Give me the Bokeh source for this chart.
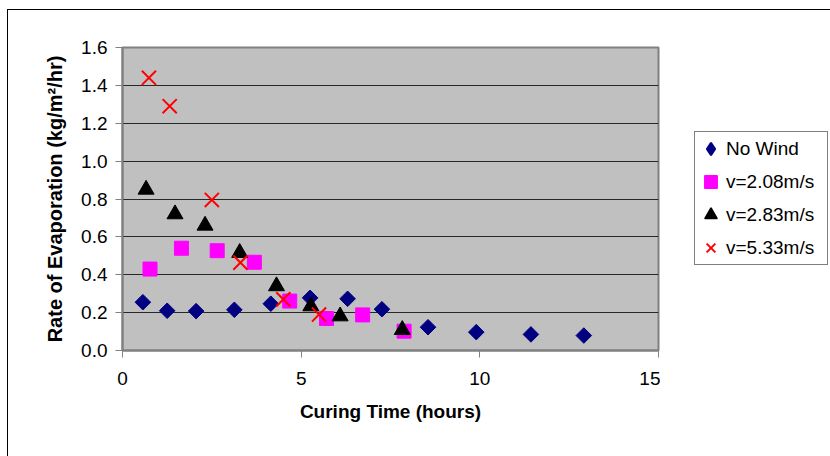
import numpy as np
from bokeh.plotting import figure
from bokeh.layouts import row
from bokeh.models import Legend, LegendItem, FixedTicker, NumeralTickFormatter, Range1d
from bokeh.embed import file_html
from bokeh.resources import INLINE

# Data
nowind_t = [0.57, 1.25, 2.06, 3.13, 4.15, 5.25, 6.30, 7.26, 8.55, 9.90, 11.43, 12.91]
nowind_r = [0.255, 0.21, 0.208, 0.215, 0.247, 0.278, 0.273, 0.218, 0.123, 0.097, 0.085, 0.079]

v208_t = [0.77, 1.65, 2.65, 3.69, 4.68, 5.71, 6.72, 7.88]
v208_r = [0.43, 0.54, 0.527, 0.466, 0.261, 0.169, 0.188, 0.102]

v283_t = [0.66, 1.47, 2.31, 3.28, 4.31, 5.27, 6.09, 7.83]
v283_r = [0.85, 0.72, 0.66, 0.516, 0.34, 0.234, 0.181, 0.109]

v533_t = [0.74, 1.32, 2.50, 3.30, 4.50, 5.50]
v533_r = [1.44, 1.29, 0.795, 0.464, 0.27, 0.19]

labels = ["No Wind", "v=2.08m/s", "v=2.83m/s", "v=5.33m/s"]
x_ticks = [0, 5, 10, 15]
y_ticks = [0.0, 0.2, 0.4, 0.6, 0.8, 1.0, 1.2, 1.4, 1.6]

FONT = "Liberation Sans"
NAVY, MAGENTA, BLACK, RED = "#000080", "#FF00FF", "#000000", "#FF0000"

p = figure(width=652, height=446, output_backend="svg", toolbar_location=None,
           x_range=Range1d(0, 15), y_range=Range1d(0, 1.6),
           min_border_left=114, min_border_right=2, min_border_top=37, min_border_bottom=106)

p.background_fill_color = "#C0C0C0"
p.border_fill_color = "white"
p.outline_line_color = "#808080"
p.outline_line_width = 2

p.xgrid.grid_line_color = None
p.ygrid.grid_line_color = "#000000"
p.ygrid.grid_line_width = 1
p.ygrid.grid_line_alpha = 0.8

p.xaxis.ticker = FixedTicker(ticks=x_ticks)
p.yaxis.ticker = FixedTicker(ticks=y_ticks)
p.yaxis.formatter = NumeralTickFormatter(format="0.0")

for ax in (p.xaxis, p.yaxis):
    ax.axis_line_color = "#808080"
    ax.axis_line_width = 2
    ax.major_tick_line_color = "#808080"
    ax.major_tick_in = 0
    ax.major_tick_out = 7
    ax.minor_tick_line_color = None
    ax.major_label_text_font = FONT
    ax.major_label_text_font_size = "19px"
    ax.major_label_text_color = "black"
    ax.axis_label_text_font = FONT
    ax.axis_label_text_font_style = "bold"
    ax.axis_label_text_color = "black"

p.xaxis.axis_label_text_font_size = "19px"
p.yaxis.axis_label_text_font_size = "20px"
p.xaxis.major_label_standoff = 14
p.xaxis.axis_label_standoff = 13
p.yaxis.major_label_standoff = 8
p.yaxis.axis_label_standoff = 12
p.xaxis.axis_label = "Curing Time (hours)"
p.yaxis.axis_label = "Rate of Evaporation (kg/m²/hr)"

STYLES = [
    dict(marker="square", angle=np.pi / 4, size=11, fill_color=NAVY, line_color=NAVY),
    dict(marker="square", size=14, fill_color=MAGENTA, line_color=MAGENTA),
    dict(marker="triangle", size=16, fill_color=BLACK, line_color=BLACK),
    dict(marker="x", size=20, line_color=RED, line_width=2),
]
SERIES = [(nowind_t, nowind_r), (v208_t, v208_r), (v283_t, v283_r), (v533_t, v533_r)]

for (t, r), st in zip(SERIES, STYLES):
    p.scatter(t, r, **st)

# Legend panel: a separate figure to the right of the plot area whose ranges
# keep the (same) data out of view, so only the legend is visible.
pl = figure(width=170, height=446, output_backend="svg", toolbar_location=None,
            x_axis_type=None, y_axis_type=None,
            x_range=Range1d(100, 101), y_range=Range1d(100, 101),
            min_border_left=0, min_border_right=0, min_border_top=37, min_border_bottom=106)
pl.outline_line_color = None
pl.background_fill_color = "white"
pl.border_fill_color = "white"
pl.grid.grid_line_color = None

LEG_STYLES = [
    dict(marker="diamond", fill_color=NAVY, line_color=NAVY, line_width=2),
    dict(marker="square", fill_color=MAGENTA, line_color=MAGENTA, line_width=1.5),
    dict(marker="triangle", fill_color=BLACK, line_color=BLACK, line_width=1.5),
    dict(marker="x", line_color=RED, line_width=2),
]
items = []
for lab, (t, r), st in zip(labels, SERIES, LEG_STYLES):
    rr = pl.scatter(t, r, **st)
    items.append(LegendItem(label=lab, renderers=[rr]))

legend = Legend(items=items, location=(34, 85))
legend.border_line_color = "black"
legend.border_line_width = 1
legend.background_fill_color = "white"
legend.background_fill_alpha = 1
legend.label_text_font = FONT
legend.label_text_font_size = "19px"
legend.label_text_color = "black"
legend.glyph_width = 31
legend.glyph_height = 33
legend.label_standoff = 0
legend.label_width = 101
legend.label_height = 33
legend.spacing = 0
legend.padding = 0
legend.margin = 0
pl.add_layout(legend, "center")

layout = row(p, pl, spacing=0,
             styles={"border-left": "1px solid black", "border-top": "1px solid black",
                     "margin-left": "7px", "margin-top": "9px"})

open("out.html", "w").write(file_html(layout, INLINE))
